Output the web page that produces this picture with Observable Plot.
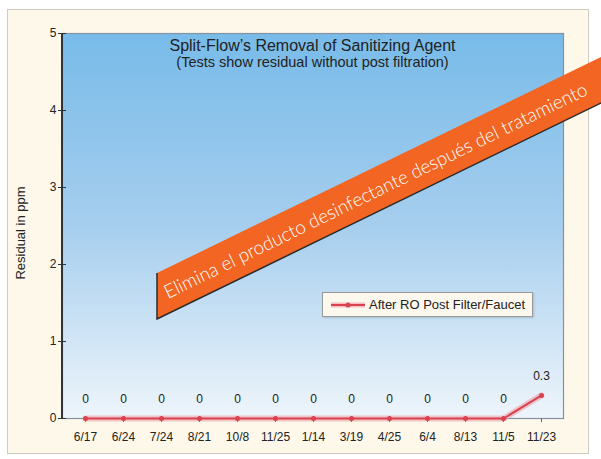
<!DOCTYPE html>
<html>
<head>
<meta charset="utf-8">
<script src="https://cdn.jsdelivr.net/npm/d3@7"></script>
<script src="https://cdn.jsdelivr.net/npm/@observablehq/plot@0.6"></script>
<style>
  html, body { margin: 0; padding: 0; background: #ffffff; }
  #wrap { position: relative; width: 601px; height: 459px; overflow: hidden; font-family: "Liberation Sans", Arial, sans-serif; }
  #frame { position: absolute; left: 7px; top: 9px; width: 582px; height: 445px; background: #fdf8ea; border: 1px solid #cfccc4; box-sizing: border-box; }
  #chart { position: absolute; left: 0; top: 0; }
  .title { position: absolute; left: 62px; width: 501px; text-align: center; color: #222; line-height: 16px; white-space: nowrap; }
  #ylabel { position: absolute; left: 20px; top: 233px; transform: translate(-50%, -50%) rotate(-90deg); font-size: 13px; color: #222; white-space: nowrap; }
  #legend { position: absolute; left: 322px; top: 292px; width: 211px; height: 25px; background: #fcf8ee; border: 1px solid #9a9a9a; box-sizing: border-box; box-shadow: 1px 1px 2px rgba(0,0,0,0.15); display: flex; align-items: center; font-size: 13px; color: #222; white-space: nowrap; }
  #banner { position: absolute; left: 0; top: 0; }
</style>
</head>
<body>
<div id="wrap">
  <div id="frame"></div>
  <div id="chart"></div>
  <div class="title" style="top:38px; font-size:16px;">Split-Flow’s Removal of Sanitizing Agent</div>
  <div class="title" style="top:54px; font-size:14.5px;">(Tests show residual without post filtration)</div>
  <div id="ylabel">Residual in ppm</div>
  <div id="legend"></div>
  <div id="banner"></div>
</div>
<script>
const dates = ["6/17","6/24","7/24","8/21","10/8","11/25","1/14","3/19","4/25","6/4","8/13","11/5","11/23"];
const residual = [0,0,0,0,0,0,0,0,0,0,0,0,0.3];
const yTicks = [0,1,2,3,4,5];
const seriesName = "After RO Post Filter/Faucet";
const bannerText = "Elimina el producto desinfectante después del tratamiento";

const data = dates.map((d, i) => ({date: d, v: residual[i]}));
const lineColor = "#d9424f";

const defs = () => {
  const g = d3.create("svg:defs");
  const lg = g.append("linearGradient").attr("id", "bgGrad").attr("x1", 0).attr("y1", 0).attr("x2", 0).attr("y2", 1);
  lg.append("stop").attr("offset", "0%").attr("stop-color", "#78bbe9");
  lg.append("stop").attr("offset", "50%").attr("stop-color", "#a6ceee");
  lg.append("stop").attr("offset", "100%").attr("stop-color", "#eef5fb");
  return g.node();
};

const yAxisLine = (index, scales, values, dims) => {
  const l = d3.create("svg:line")
    .attr("x1", dims.marginLeft).attr("x2", dims.marginLeft)
    .attr("y1", dims.marginTop).attr("y2", dims.height - dims.marginBottom)
    .attr("stroke", "#2f3438").attr("stroke-width", 2);
  return l.node();
};

const chart = Plot.plot({
  width: 601,
  height: 459,
  marginLeft: 62,
  marginRight: 38,
  marginTop: 33,
  marginBottom: 41,
  style: {background: "transparent", fontFamily: "'Liberation Sans', Arial, sans-serif", fontSize: "12px", color: "#222"},
  x: {type: "point", domain: dates, padding: 0.5},
  y: {domain: [0, 5]},
  marks: [
    defs,
    Plot.frame({fill: "url(#bgGrad)", stroke: "#8593a0", strokeWidth: 1.2}),
    Plot.axisX({tickSize: 4, tickPadding: 10, label: null, stroke: "#666", fontSize: 12}),
    Plot.axisY({ticks: yTicks, tickFormat: d => String(d), tickSize: 4, tickPadding: 2, label: null, stroke: "#2f3438", fontSize: 12}),
    Plot.axisY({ticks: yTicks, tickSize: -4, tickFormat: () => "", label: null, stroke: "#2f3438"}),
    yAxisLine,
    Plot.line(data, {x: "date", y: "v", stroke: "#f09aa3", strokeWidth: 6, strokeOpacity: 0.55}),
    Plot.line(data, {x: "date", y: "v", stroke: lineColor, strokeWidth: 2}),
    Plot.dot(data, {x: "date", y: "v", r: 2.5, fill: lineColor}),
    Plot.text(data, {x: "date", y: "v", text: d => String(d.v), dy: -19, fontSize: 12, fill: "#222"})
  ]
});
document.getElementById("chart").appendChild(chart);

// legend
const leg = d3.select("#legend");
const ls = leg.append("svg").attr("width", 40).attr("height", 12).style("margin-left", "6px");
ls.append("line").attr("x1", 2).attr("x2", 36).attr("y1", 6).attr("y2", 6).attr("stroke", "#f09aa3").attr("stroke-width", 5).attr("stroke-opacity", 0.6);
ls.append("line").attr("x1", 2).attr("x2", 36).attr("y1", 6).attr("y2", 6).attr("stroke", lineColor).attr("stroke-width", 2);
ls.append("circle").attr("cx", 19).attr("cy", 6).attr("r", 2.5).attr("fill", lineColor);
leg.append("span").text(seriesName);

// banner annotation
const ang = Math.atan2(216, 444);
const bs = d3.select("#banner").append("svg").attr("width", 601).attr("height", 459);
const x0 = 157, yTop0 = 273, yBot0 = 319, x1 = 625;
const slope = Math.tan(ang);
const yTop1 = yTop0 - slope * (x1 - x0), yBot1 = yBot0 - slope * (x1 - x0);
bs.append("polygon")
  .attr("points", `${x0},${yTop0} ${x1},${yTop1} ${x1},${yBot1} ${x0},${yBot0}`)
  .attr("fill", "#f26522");
bs.append("polyline")
  .attr("points", `${x0},${yTop0} ${x0},${yBot0} ${x1},${yBot1}`)
  .attr("fill", "none").attr("stroke", "#2b2b2b").attr("stroke-width", 1.5);
bs.append("text")
  .attr("transform", `translate(168,299) rotate(${-ang * 180 / Math.PI})`)
  .attr("fill", "#fff")
  .attr("font-family", "Lato, 'Open Sans', sans-serif")
  .attr("font-weight", 300)
  .attr("font-size", 19)
  .attr("textLength", 468)
  .attr("lengthAdjust", "spacingAndGlyphs")
  .text(bannerText);
</script>
</body>
</html>
